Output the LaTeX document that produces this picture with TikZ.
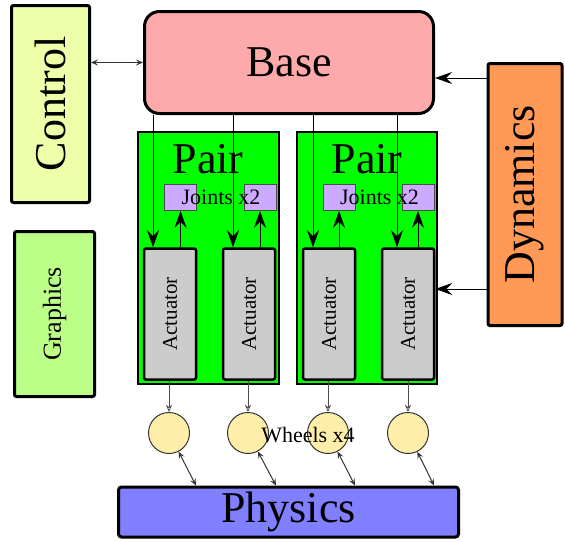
\documentclass[tikz,border=0pt]{standalone}
\usepackage{fontspec}
\setmainfont{Liberation Serif}
\usetikzlibrary{arrows.meta}

\definecolor{ctrlfill}{HTML}{EEFFAA}
\definecolor{gfxfill}{HTML}{BBFF88}
\definecolor{basefill}{HTML}{FFAAAA}
\definecolor{dynfill}{HTML}{FF9955}
\definecolor{pairfill}{HTML}{00FF00}
\definecolor{actfill}{HTML}{CCCCCC}
\definecolor{jointfill}{HTML}{CCAAFF}
\definecolor{wheelfill}{HTML}{FFEEAA}
\definecolor{physfill}{HTML}{8080FF}

\newcommand\hugetxt{\fontsize{44}{48}\selectfont}
\newcommand\smalltxt{\fontsize{22}{24}\selectfont}

\begin{document}
\begin{tikzpicture}[x=1pt,y=-1pt]
	\tikzset{box/.style={draw,line width=3pt,inner sep=0pt,rounded corners=2pt}}
	\tikzset{actuator/.style={box,line width=2.5pt,fill=actfill,rotate=90,minimum width=131pt,minimum height=52pt,font=\fontsize{21}{24}\selectfont}}
	\tikzset{joint/.style={draw=black!70,line width=0.8pt,fill=jointfill,minimum width=32pt,minimum height=26pt,inner sep=0pt}}
	\tikzset{wheel/.style={circle,draw=black!80,line width=1pt,fill=wheelfill,minimum size=41pt,inner sep=0pt}}
	\tikzset{bigtip/.style={-{Stealth[length=17pt,width=12pt,inset=6pt]},line width=1pt}}
	\tikzset{smalltip/.style={{Stealth[length=7pt,width=6pt,inset=3pt]}-{Stealth[length=7pt,width=6pt,inset=3pt]},line width=1pt,draw=black!80}}
	\tikzset{wheeltip/.style={-{Stealth[open,length=7pt,width=6pt,inset=2pt]},line width=0.8pt,draw=black!70}}

	\useasboundingbox (0,0) rectangle (565,541);

	% side blocks
	\node[box,fill=ctrlfill,rotate=90,minimum width=197pt,minimum height=78pt,font=\hugetxt] (control) at (50.5,104) {Control};
	\node[box,fill=gfxfill,rotate=90,minimum width=165pt,minimum height=80pt,font=\fontsize{26}{28}\selectfont] (graphics) at (54.5,314) {Graphics};
	\node[box,fill=dynfill,rotate=90,minimum width=262pt,minimum height=74pt,font=\hugetxt] (dynamics) at (525,194.5) {Dynamics};
	\node[box,fill=basefill,rounded corners=15pt,minimum width=289pt,minimum height=102pt,font=\hugetxt] (base) at (289,62.5) {Base};
	\node[box,fill=physfill,rounded corners=3pt,minimum width=340pt,minimum height=50pt,font=\hugetxt] (physics) at (288.5,512) {Physics};

	% pairs
	\node[box,line width=2.5pt,rounded corners=0pt,fill=pairfill,minimum width=141pt,minimum height=252pt] (pair1) at (208.5,258) {};
	\node[box,line width=2.5pt,rounded corners=0pt,fill=pairfill,minimum width=140pt,minimum height=252pt] (pair2) at (367,258) {};
	\node[font=\hugetxt,anchor=base,inner sep=0pt] (pairtxt1) at (208,173) {Pair};
	\node[font=\hugetxt,anchor=base,inner sep=0pt] (pairtxt2) at (367,173) {Pair};

	\node[actuator] (act1) at (170,314) {Actuator};
	\node[actuator] (act2) at (249,314) {Actuator};
	\node[actuator] (act3) at (329,314) {Actuator};
	\node[actuator] (act4) at (408,314) {Actuator};

	\node[joint] (joint1) at (180.5,197.5) {};
	\node[joint] (joint2) at (260,197.5) {};
	\node[joint] (joint3) at (339,197.5) {};
	\node[joint] (joint4) at (418,197.5) {};
	\node[font=\smalltxt,anchor=base,inner sep=0pt] (jointtxt1) at (221,204) {Joints x2};
	\node[font=\smalltxt,anchor=base,inner sep=0pt] (jointtxt2) at (379.5,204) {Joints x2};

	% wheels
	\node[wheel] (wheel1) at (169,433) {};
	\node[wheel] (wheel2) at (248,433) {};
	\node[wheel] (wheel3) at (328,433) {};
	\node[wheel] (wheel4) at (408,433) {};
	\node[font=\smalltxt,anchor=base,inner sep=0pt] (wheeltxt) at (308,442) {Wheels x4};

	% connections
	\draw[smalltip] (control.south |- base.west) -- (base.west);
	\draw[bigtip] (dynamics.north |- 0,78) -- (base.east |- 0,78);
	\draw[bigtip] (dynamics.north |- 0,289) -- (act4.south |- 0,289);

	\draw[bigtip] (base.south -| 153,0) -- (act1.east -| 153,0);
	\draw[bigtip] (base.south -| 233,0) -- (act2.east -| 233,0);
	\draw[bigtip] (base.south -| 313,0) -- (act3.east -| 313,0);
	\draw[bigtip] (base.south -| 397,0) -- (act4.east -| 397,0);

	\draw[bigtip] (act1.east -| joint1.south) -- (joint1.south);
	\draw[bigtip] (act2.east -| joint2.south) -- (joint2.south);
	\draw[bigtip] (act3.east -| joint3.south) -- (joint3.south);
	\draw[bigtip] (act4.east -| joint4.south) -- (joint4.south);

	\draw[wheeltip] (act1.west -| wheel1) -- (wheel1);
	\draw[wheeltip] (act2.west -| wheel2) -- (wheel2);
	\draw[wheeltip] (act3.west -| wheel3) -- (wheel3);
	\draw[wheeltip] (act4.west -| wheel4) -- (wheel4);

	\draw[smalltip] (wheel1) -- ([xshift=27pt]wheel1.south |- physics.north);
	\draw[smalltip] (wheel2) -- ([xshift=28pt]wheel2.south |- physics.north);
	\draw[smalltip] (wheel3) -- ([xshift=27pt]wheel3.south |- physics.north);
	\draw[smalltip] (wheel4) -- ([xshift=26pt]wheel4.south |- physics.north);
\end{tikzpicture}
\end{document}
